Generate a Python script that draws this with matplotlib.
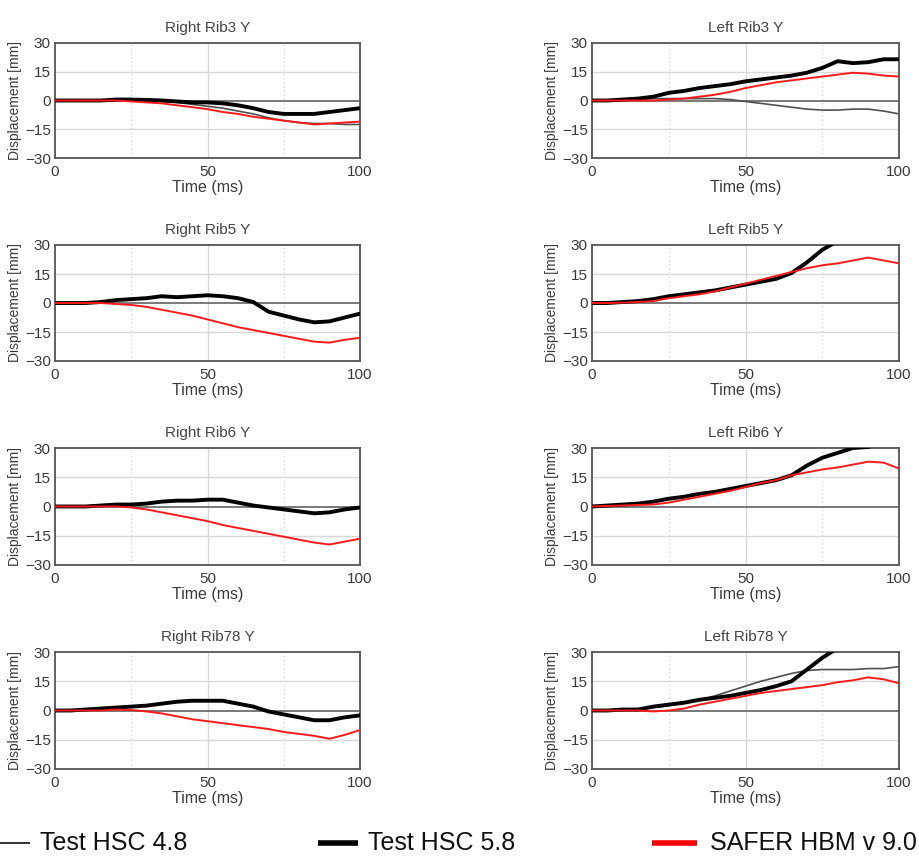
import matplotlib
matplotlib.use("Agg")
import matplotlib.pyplot as plt
from matplotlib.lines import Line2D

plt.rcParams['font.family'] = ['Liberation Sans', 'DejaVu Sans']

# time grid (ms), values read every 5 ms
T = [0, 5, 10, 15, 20, 25, 30, 35, 40, 45, 50, 55, 60, 65, 70, 75, 80, 85, 90, 95, 100]

titles = ["Right Rib3 Y", "Left Rib3 Y",
          "Right Rib5 Y", "Left Rib5 Y",
          "Right Rib6 Y", "Left Rib6 Y",
          "Right Rib78 Y", "Left Rib78 Y"]

# Test HSC 4.8 (thin grey) - only visible in some panels
test48 = {
    "Right Rib3 Y": [0, 0, 0, 0, 0, 0, 0, -0.5, -1, -2, -3, -4, -5.5, -7, -9, -10.5, -11.5, -12, -12, -12.5, -12.5],
    "Left Rib3 Y": [0, 0, 0, 0.5, 1, 1, 1, 1, 1, 0.5, -0.5, -1.5, -2.5, -3.5, -4.5, -5, -5, -4.5, -4.5, -5.5, -7],
    "Left Rib78 Y": [0, 0, 0, 0.5, 1.5, 2.5, 4, 5.5, 7.5, 10, 12.5, 15, 17, 19, 20.5, 21, 21, 21, 21.5, 21.5, 22.5],
}

# Test HSC 5.8 (thick black)
test58 = {
    "Right Rib3 Y": [0, 0, 0, 0, 0.5, 0.5, 0.3, 0, -0.5, -1, -1, -1.5, -2.5, -4, -6, -7, -7, -7, -6, -5, -4],
    "Left Rib3 Y": [0, 0, 0.5, 1, 2, 4, 5, 6.5, 7.5, 8.5, 10, 11, 12, 13, 14.5, 17, 20.5, 19.5, 20, 21.5, 21.5],
    "Right Rib5 Y": [0, 0, 0, 0.5, 1.5, 2, 2.5, 3.5, 3, 3.5, 4, 3.5, 2.5, 0.5, -4.5, -6.5, -8.5, -10, -9.5, -7.5, -5.5],
    "Left Rib5 Y": [0, 0, 0.5, 1, 2, 3.5, 4.5, 5.5, 6.5, 8, 9.5, 11, 12.5, 15.5, 21, 27.5, 32, 35, 38, 40, 42],
    "Right Rib6 Y": [0, 0, 0, 0.5, 1, 1, 1.5, 2.5, 3, 3, 3.5, 3.5, 2, 0.5, -0.5, -1.5, -2.5, -3.5, -3, -1.5, -0.5],
    "Left Rib6 Y": [0, 0.5, 1, 1.5, 2.5, 4, 5, 6.5, 7.5, 9, 10.5, 12, 13.5, 16, 21, 25, 27.5, 30, 30.5, 33, 35],
    "Right Rib78 Y": [0, 0, 0.5, 1, 1.5, 2, 2.5, 3.5, 4.5, 5, 5, 5, 3.5, 2, -0.5, -2, -3.5, -5, -5, -3.5, -2.5],
    "Left Rib78 Y": [0, 0, 0.5, 0.5, 2, 3, 4, 5.5, 6.5, 7.5, 9, 10.5, 12.5, 15, 21, 27, 32, 36, 40, 44, 48],
}

# SAFER HBM v 9.0 (red)
safer = {
    "Right Rib3 Y": [0, 0, 0, 0, 0, -0.5, -1, -1.5, -2.5, -3.5, -4.5, -6, -7, -8.5, -9.5, -10.5, -11.5, -12.5, -12, -11.5, -11],
    "Left Rib3 Y": [0, 0, 0, 0, 0, 0.5, 1, 2, 3, 4.5, 6.5, 8, 9.5, 10.5, 11.5, 12.5, 13.5, 14.5, 14, 13, 12.5],
    "Right Rib5 Y": [0, 0, 0, 0, -0.5, -1, -2, -3.5, -5, -6.5, -8.5, -10.5, -12.5, -14, -15.5, -17, -18.5, -20, -20.5, -19, -18],
    "Left Rib5 Y": [0, 0, 0.2, 0.5, 1, 2.5, 3.5, 4.5, 6, 8, 10, 12, 14, 16, 18, 19.5, 20.5, 22, 23.5, 22, 20.5],
    "Right Rib6 Y": [0, 0, 0, 0, 0, -0.5, -1.5, -3, -4.5, -6, -7.5, -9.5, -11, -12.5, -14, -15.5, -17, -18.5, -19.5, -18, -16.5],
    "Left Rib6 Y": [0, 0.3, 0.5, 0.8, 1, 2, 3.5, 5, 6.5, 8, 10, 12, 13.5, 16, 17.5, 19, 20, 21.5, 23, 22.5, 19.5],
    "Right Rib78 Y": [0, 0, 0, 0, 0.5, 0.3, -0.5, -1.5, -3, -4.5, -5.5, -6.5, -7.5, -8.5, -9.5, -11, -12, -13, -14.5, -12.5, -10],
    "Left Rib78 Y": [0, 0, 0, 0, -0.5, 0, 1, 3, 4.5, 6, 7.5, 9, 10, 11, 12, 13, 14.5, 15.5, 17, 16, 14],
}

legend_labels = ["Test HSC 4.8", "Test HSC 5.8", "SAFER HBM v 9.0"]

W, H = 919, 861
fig = plt.figure(figsize=(W / 100, H / 100), dpi=100)

col_x = [(55, 360), (592, 899)]
row_y = [(43, 158), (245, 361), (448, 565), (652, 769)]
txt = "#3a3a3a"

for i, name in enumerate(titles):
    r, c = divmod(i, 2)
    x0, x1 = col_x[c]
    y0, y1 = row_y[r]
    ax = fig.add_axes([x0 / W, 1 - y1 / H, (x1 - x0) / W, (y1 - y0) / H])
    ax.set_xlim(0, 100)
    ax.set_ylim(-30, 30)
    ax.set_xticks([0, 50, 100])
    ax.set_yticks([-30, -15, 0, 15, 30])
    ax.tick_params(length=0, labelsize=11, colors=txt, pad=3)
    ax.tick_params(axis='x', pad=5)
    for s in ax.spines.values():
        s.set_color("#555555")
        s.set_linewidth(1.3)
    # grid
    for yv in (-15, 15):
        ax.axhline(yv, color="#d8d8d8", lw=1.0, zorder=0)
    ax.axvline(50, color="#d8d8d8", lw=1.0, zorder=0)
    for xv in (25, 75):
        ax.axvline(xv, color="#d8d8d8", lw=1.0, ls=(0, (1, 2)), zorder=0)
    ax.axhline(0, color="#555555", lw=1.1, zorder=1)

    if name in test48:
        ax.plot(T, test48[name], color="#505050", lw=1.2, zorder=2)
    ax.plot(T, test58[name], color="black", lw=2.8, zorder=3, solid_capstyle='butt')
    ax.plot(T, safer[name], color="#ff1a1a", lw=1.4, zorder=4)

    ax.set_title(name, fontsize=11, color="#444444", pad=8)
    ax.set_xlabel("Time (ms)", fontsize=11.5, color=txt, labelpad=1)
    ax.set_ylabel("Displacement [mm]", fontsize=10, color=txt, labelpad=2)

# legend drawn along the bottom
ly = 1 - 843 / H
leg = [((0, 30), "#333333", 1.4, 40),
       ((318, 358), "black", 4.0, 368),
       ((652, 697), "#ff0000", 4.0, 710)]
for (lx, color, lw, tx), lab in zip(leg, legend_labels):
    fig.add_artist(Line2D([lx[0] / W, lx[1] / W], [ly, ly], color=color, lw=lw,
                          transform=fig.transFigure, solid_capstyle='butt'))
    fig.text(tx / W, ly, lab, fontsize=18, va='center', ha='left', color="#111111")

fig.savefig("out.png", dpi=100)
